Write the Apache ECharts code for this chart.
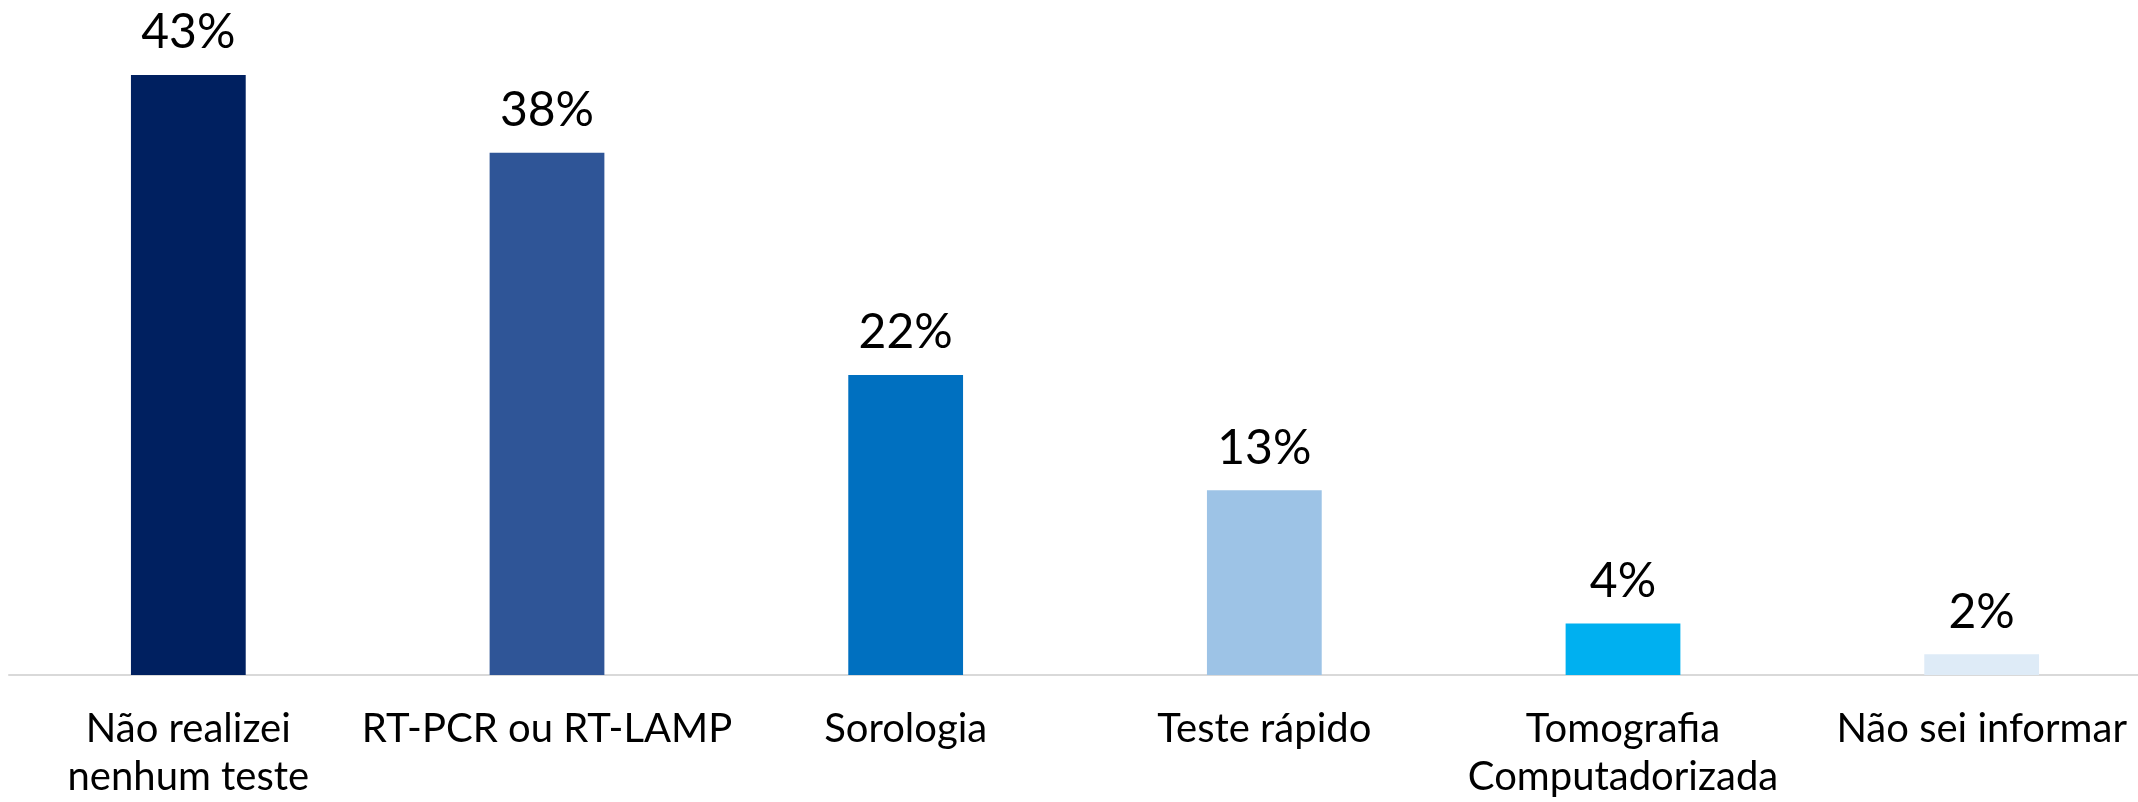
<!DOCTYPE html>
<html>
<head>
<meta charset="utf-8">
<script src="https://cdn.jsdelivr.net/npm/echarts@6/dist/echarts.min.js"></script>
<style>
  html, body { margin: 0; padding: 0; background: #fff; }
  #chart { width: 2138px; height: 802px; }
</style>
</head>
<body>
<div id="chart"></div>
<script>
  const categories = [
    'Não realizei\nnenhum teste',
    'RT-PCR ou RT-LAMP',
    'Sorologia',
    'Teste rápido',
    'Tomografia\nComputadorizada',
    'Não sei informar'
  ]
  // percentages (labels show them rounded)
  const values = [43.2, 37.6, 21.6, 13.3, 3.7, 1.5]
  const barColors = ['#002060', '#2F5597', '#0070C0', '#9DC3E6', '#00B0F0', '#DEEBF7']

  const myChart = echarts.init(document.getElementById('chart'))
  const option = {
    animation: false,
    grid: {
      left: 9,
      width: 2152, // last category runs a little past the right edge
      top: 50,
      bottom: 127,
      containLabel: false,
      outerBoundsMode: 'none'
    },
    xAxis: {
      type: 'category',
      data: categories,
      axisTick: { show: false },
      axisLine: {
        lineStyle: { color: '#d9d9d9', width: 2 }
      },
      axisLabel: {
        interval: 0,
        margin: 30,
        color: '#000',
        fontFamily: 'Lato',
        fontSize: 40,
        lineHeight: 48
      }
    },
    yAxis: {
      type: 'value',
      min: 0,
      max: 45,
      show: false,
      splitLine: { show: false }
    },
    series: [{
      type: 'bar',
      barWidth: '32%',
      data: values.map((v, i) => ({
        value: v,
        itemStyle: { color: barColors[i] }
      })),
      label: {
        show: true,
        position: 'top',
        distance: 18,
        color: '#000',
        fontFamily: 'Lato',
        fontSize: 48,
        formatter: (p) => Math.round(p.value) + '%'
      }
    }]
  }
  myChart.setOption(option)
</script>
</body>
</html>
